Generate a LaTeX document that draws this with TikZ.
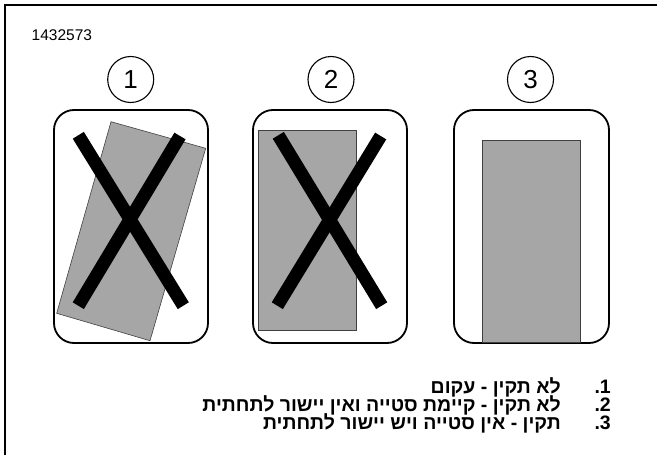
\documentclass[tikz,border=0pt]{standalone}
\usepackage{fontspec}
\setmainfont{Liberation Sans}
\newfontfamily\hebfont[Script=Hebrew]{Liberation Sans}
\TeXXeTstate=1
\definecolor{plategray}{HTML}{A6A6A6}
\begin{document}
\begin{tikzpicture}[x=1pt,y=-1pt,
  framebox/.style={draw, line width=1.8pt, rounded corners=20pt, rectangle, inner sep=0pt},
  numcirc/.style={draw, circle, line width=1.1pt, minimum size=46pt, inner sep=0pt, font=\fontsize{26}{26}\selectfont},
  grayrect/.style={fill=plategray, draw=black!75, line width=0.6pt},
  xstroke/.style={line width=13pt, line cap=butt},
  hebline/.style={anchor=east, inner sep=0pt, font=\hebfont\bfseries\fontsize{19.5}{20}\selectfont},
]
\useasboundingbox (0,0) rectangle (657,455);
\fill[white] (0,0) rectangle (657,455);
% outer frame (partly cropped)
\draw[line width=1.5pt] (5,455) -- (5,5) -- (657,5);

\node[anchor=west, inner sep=0pt, font=\fontsize{15.5}{16}\selectfont] (code) at (31.5,35.5) {1432573};

\node[numcirc] (c1) at (130.7,79.5) {1};
\node[numcirc] (c2) at (331,79.5) {2};
\node[numcirc] (c3) at (530.5,79.5) {3};

% panel 1
\node[framebox, minimum width=154pt, minimum height=233pt] (b1) at (131,226.5) {};
\draw[grayrect] (111,121.7) -- (205.7,148.3) -- (150,340.7) -- (56.7,313.3) -- cycle;
\coordinate (p1a) at (78.3,135.3); \coordinate (p1b) at (183.3,305.7);
\coordinate (p1c) at (180,136);   \coordinate (p1d) at (78.3,305.7);
\draw[xstroke] (p1a) -- (p1b);
\draw[xstroke] (p1c) -- (p1d);

% panel 2
\node[framebox, minimum width=154pt, minimum height=233pt] (b2) at (330,226.5) {};
\draw[grayrect] (258.3,130) rectangle (356.7,330.7);
\coordinate (p2a) at (278.3,135.3); \coordinate (p2b) at (381.7,305.7);
\coordinate (p2c) at (380.7,136);   \coordinate (p2d) at (277.3,305.7);
\draw[xstroke] (p2a) -- (p2b);
\draw[xstroke] (p2c) -- (p2d);

% panel 3
\node[framebox, minimum width=155pt, minimum height=233pt] (b3) at (531.5,226.5) {};
\draw[grayrect] (482.3,140.7) rectangle (580.7,342);

% legend
\node[hebline] (n1) at (611,387) {\beginR 1.\endR};
\node[hebline] (n2) at (611,405) {\beginR 2.\endR};
\node[hebline] (n3) at (611,423) {\beginR 3.\endR};
\node[hebline] (t1) at (561,387) {\beginR לא תקין - עקום\endR};
\node[hebline] (t2) at (561,405) {\beginR לא תקין - קיימת סטייה ואין יישור לתחתית\endR};
\node[hebline] (t3) at (561,423) {\beginR תקין - אין סטייה ויש יישור לתחתית\endR};
\end{tikzpicture}
\end{document}
